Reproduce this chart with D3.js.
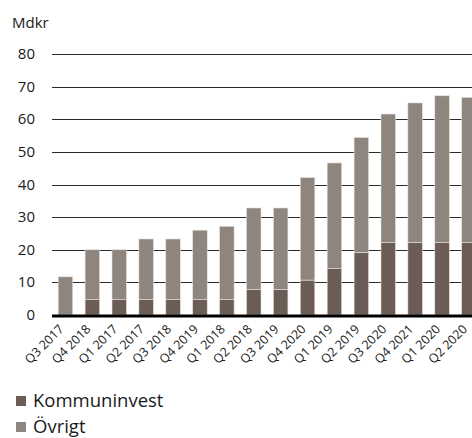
<!DOCTYPE html>
<html>
<head>
<meta charset="utf-8">
<script src="https://cdn.jsdelivr.net/npm/d3@7"></script>
<style>
  body { margin: 0; background: #fff; }
  text { font-family: "Open Sans", "Noto Sans", sans-serif; fill: #1a1a1a; }
</style>
</head>
<body>
<div class="chart"></div>
<script>
const W = 472, H = 438;

const quarters = ["Q3 2017", "Q4 2018", "Q1 2017", "Q2 2017", "Q3 2018", "Q4 2019", "Q1 2018", "Q2 2018",
                  "Q3 2019", "Q4 2020", "Q1 2019", "Q2 2019", "Q3 2020", "Q4 2021", "Q1 2020", "Q2 2020"];
const kommuninvest = [0, 4.7, 4.7, 4.7, 4.7, 4.7, 4.7, 7.8, 7.8, 10.7, 14.2, 19.2, 22.2, 22.2, 22.2, 22.2];
const totals = [11.7, 20, 20, 23.3, 23.3, 26, 27.2, 32.8, 32.8, 42.1, 46.6, 54.4, 61.6, 65, 67.2, 66.7];
const ovrigt = totals.map((t, i) => t - kommuninvest[i]);
const yTicks = [0, 10, 20, 30, 40, 50, 60, 70, 80];
const seriesNames = ["Kommuninvest", "Övrigt"];
const colors = ["#6b5d55", "#8e857e"];

const svg = d3.select(".chart").append("svg")
  .attr("width", W).attr("height", H);

// band step ~26.9px, plot runs past the right edge like the original
const x = d3.scaleBand()
  .domain(quarters)
  .range([52, 52 + 26.9 * 16])
  .paddingInner(0.46).paddingOuter(0.23);

const y = d3.scaleLinear().domain([0, 80]).range([315, 54]);

// grid lines
svg.append("g").selectAll("line")
  .data(yTicks.filter(d => d > 0)).enter()
  .append("line")
  .attr("x1", 52).attr("x2", W)
  .attr("y1", d => Math.round(y(d)) + 0.5).attr("y2", d => Math.round(y(d)) + 0.5)
  .attr("stroke", "#2a2a2a").attr("stroke-width", 1);

// y labels
svg.append("g").selectAll("text")
  .data(yTicks).enter()
  .append("text")
  .attr("x", 35).attr("y", d => y(d) + 5)
  .attr("text-anchor", "end")
  .style("font-size", "15px")
  .text(d => d);

svg.append("text").attr("x", 12).attr("y", 28)
  .style("font-size", "15px").text("Mdkr");

// stacked bars
const rows = quarters.map((q, i) => ({q: q, Kommuninvest: kommuninvest[i], "Övrigt": ovrigt[i]}));
const stacked = d3.stack().keys(seriesNames)(rows);

svg.append("g").selectAll("g")
  .data(stacked).enter()
  .append("g")
  .attr("fill", (d, i) => colors[i])
  .selectAll("rect")
  .data(d => d).enter()
  .append("rect")
  .attr("x", d => x(d.data.q))
  .attr("width", x.bandwidth())
  .attr("y", d => y(d[1]))
  .attr("height", d => y(d[0]) - y(d[1]))
  .attr("stroke", "#e6e1dd").attr("stroke-width", 0.6);

// zero line
svg.append("line")
  .attr("x1", 52).attr("x2", W)
  .attr("y1", 316).attr("y2", 316)
  .attr("stroke", "#000").attr("stroke-width", 3);

// x labels, rotated
svg.append("g").selectAll("text")
  .data(quarters).enter()
  .append("text")
  .attr("transform", d => "translate(" + (x(d) + x.bandwidth() / 2 - 1) + ",330) rotate(-45)")
  .attr("text-anchor", "end")
  .style("font-size", "12.5px")
  .text(d => d);

// legend
const leg = svg.append("g").selectAll("g")
  .data(seriesNames).enter()
  .append("g")
  .attr("transform", (d, i) => "translate(16," + (396 + i * 26) + ")");
leg.append("rect").attr("width", 10).attr("height", 10)
  .attr("fill", (d, i) => colors[i]);
leg.append("text").attr("x", 17).attr("y", 11)
  .style("font-size", "18.5px").text(d => d);
</script>
</body>
</html>
